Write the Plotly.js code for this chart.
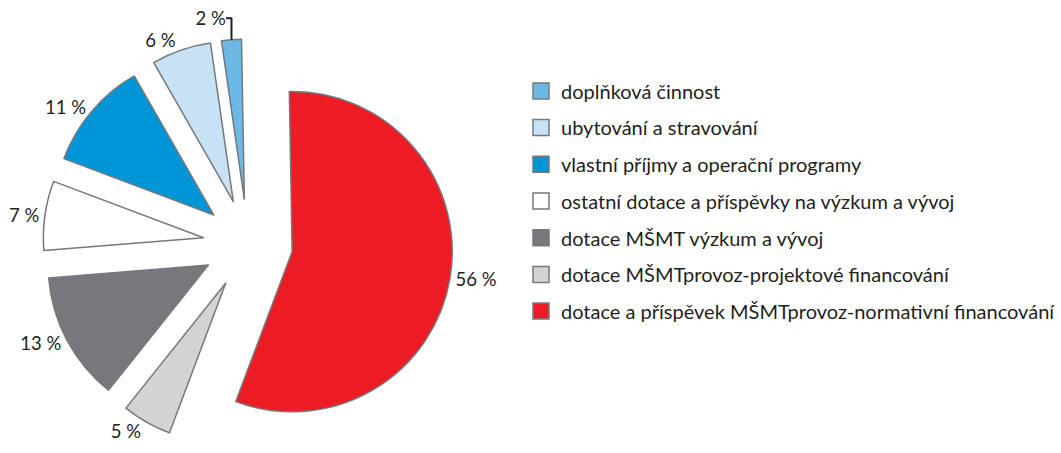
<!DOCTYPE html>
<html>
<head>
<meta charset="utf-8">
<script src="https://cdn.plot.ly/plotly-3.0.1.min.js"></script>
<style>html,body{margin:0;padding:0;background:#fff;}#chart{width:1061px;height:453px;}</style>
</head>
<body>
<div id="chart"></div>
<script>
const categories = [
  'doplňková činnost',
  'ubytování a stravování',
  'vlastní příjmy a operační programy',
  'ostatní dotace a příspěvky na výzkum a vývoj',
  'dotace MŠMT výzkum a vývoj',
  'dotace MŠMTprovoz-projektové financování',
  'dotace a příspěvek MŠMTprovoz-normativní financování'
];
const shares = [2, 6, 11, 7, 13, 5, 56];
const sliceColors = ['#6cb9e6', '#c7e2f5', '#0095d7', '#ffffff', '#77787b', '#d1d3d4', '#ed1c24'];

const FONT = 'Lato, "Open Sans", sans-serif';
const TEXT = '#231f20';
const EDGE = '#77787b';

const traces = [{
  type: 'pie',
  labels: categories,
  values: shares,
  sort: false,
  direction: 'counterclockwise',
  rotation: -8.2,
  pull: 0.28,
  marker: {colors: sliceColors, line: {color: EDGE, width: 1.5}},
  texttemplate: '%{value} %',
  textposition: 'outside',
  textfont: {family: FONT, size: 18.5, color: TEXT},
  showlegend: false,
  hoverinfo: 'label+value',
  domain: {x: [0.04, 0.43], y: [0, 1]}
}];

categories.forEach((c, i) => {
  traces.push({
    type: 'scatter',
    mode: 'markers',
    x: [null], y: [null],
    name: c,
    legendgroup: 'g' + i,
    marker: {symbol: 'square', size: 16, color: sliceColors[i], line: {color: EDGE, width: 1.5}},
    showlegend: true,
    hoverinfo: 'skip'
  });
});

const layout = {
  width: 1061, height: 453,
  margin: {l: 0, r: 0, t: 39, b: 4},
  paper_bgcolor: '#ffffff',
  plot_bgcolor: 'rgba(0,0,0,0)',
  font: {family: FONT, color: TEXT},
  xaxis: {visible: false, domain: [0.6, 0.61]},
  yaxis: {visible: false, domain: [0.9, 0.91]},
  showlegend: true,
  legend: {
    x: 0.494, xanchor: 'left', xref: 'paper',
    y: 0.921, yanchor: 'top', yref: 'paper',
    font: {family: FONT, size: 20, color: TEXT},
    traceorder: 'grouped',
    tracegroupgap: 7.7,
    itemsizing: 'trace',
    bgcolor: 'rgba(0,0,0,0)'
  }
};

Plotly.newPlot('chart', traces, layout, {displayModeBar: false, staticPlot: true});
</script>
</body>
</html>
